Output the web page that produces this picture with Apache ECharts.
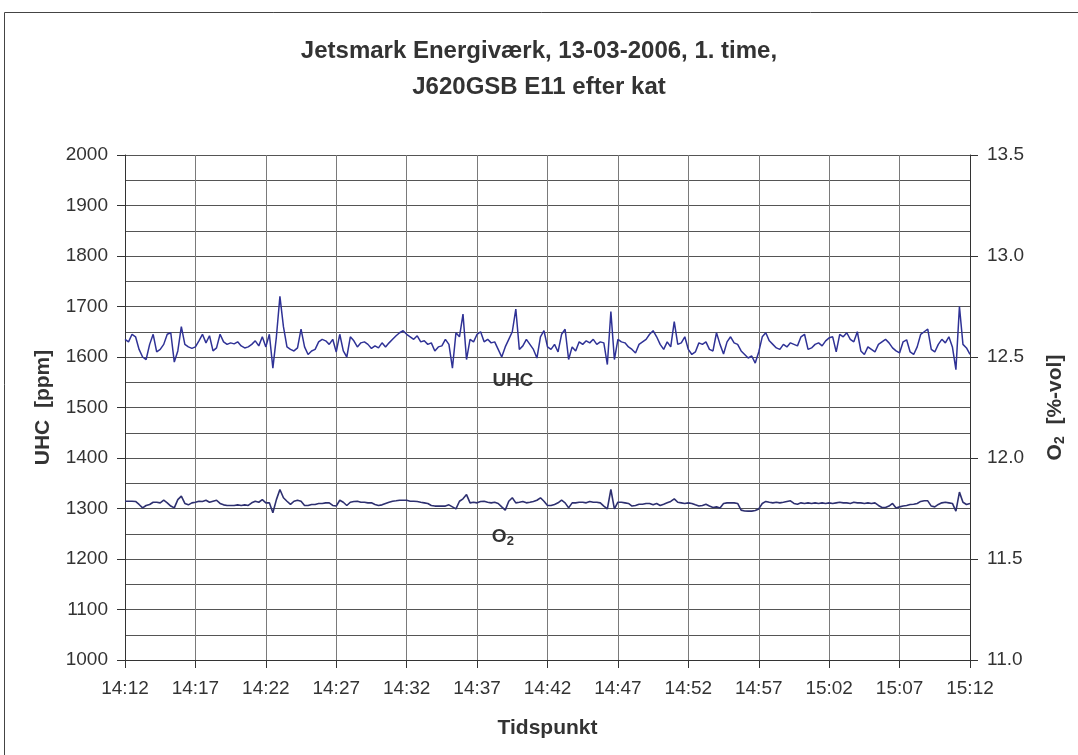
<!DOCTYPE html>
<html>
<head>
<meta charset="utf-8">
<script src="https://cdn.jsdelivr.net/npm/echarts@6/dist/echarts.min.js"></script>
<style>
html,body{margin:0;padding:0;background:#fff;}
#chart{width:1078px;height:755px;}
</style>
</head>
<body>
<div id="chart"></div>
<script>
// time step between samples, minutes (sample i is at 14:12 + i*STEP)
const STEP = 0.25;
const xTickLabels = ['14:12','14:17','14:22','14:27','14:32','14:37','14:42','14:47','14:52','14:57','15:02','15:07','15:12'];

// UHC [ppm], every 15 s from 14:12 to 15:12
const uhc = [
1635,1630,1645,1640, 1615,1600,1595,1625, 1645,1610,1615,1625, 1645,1648,1590,1612,
1660,1625,1620,1617, 1620,1632,1645,1628, 1642,1612,1618,1645, 1630,1625,1628,1626,
1630,1622,1618,1620, 1625,1632,1622,1640, 1620,1645,1578,1640, 1720,1660,1620,1615,
1612,1618,1655,1620, 1605,1612,1615,1630, 1635,1632,1625,1635, 1610,1645,1612,1600,
1640,1632,1620,1628, 1630,1625,1617,1622, 1618,1628,1620,1628, 1635,1642,1648,1652,
1645,1640,1635,1642, 1630,1632,1625,1628, 1612,1620,1622,1635, 1625,1578,1648,1640,
1685,1595,1635,1630, 1645,1650,1630,1635, 1628,1630,1615,1600, 1620,1635,1650,1695,
1615,1622,1635,1625, 1615,1598,1640,1652, 1620,1615,1625,1610, 1645,1655,1595,1620,
1612,1630,1625,1632, 1628,1635,1625,1630, 1628,1585,1690,1595, 1635,1630,1628,1620,
1615,1608,1625,1630, 1635,1645,1652,1640, 1625,1615,1630,1620, 1670,1625,1628,1640,
1615,1605,1610,1628, 1625,1630,1615,1612, 1648,1625,1606,1630, 1640,1628,1625,1612,
1605,1598,1602,1588, 1610,1640,1648,1632, 1625,1618,1615,1625, 1620,1628,1625,1622,
1640,1645,1615,1618, 1625,1628,1622,1632, 1638,1640,1610,1645, 1640,1648,1635,1630,
1650,1612,1605,1620, 1615,1610,1625,1630, 1635,1628,1618,1612, 1608,1630,1634,1610,
1605,1620,1645,1650, 1655,1615,1610,1625, 1635,1628,1640,1620, 1575,1700,1625,1618,
1605
];

// O2 [%-vol], every 15 s from 14:12 to 15:12
const o2 = [
11.786,11.786,11.786,11.785, 11.770,11.753,11.765,11.770, 11.781,11.781,11.778,11.791,
11.778,11.762,11.753,11.794, 11.811,11.775,11.768,11.778, 11.781,11.786,11.785,11.791,
11.781,11.786,11.791,11.775, 11.768,11.765,11.765,11.765, 11.768,11.765,11.768,11.765,
11.778,11.786,11.781,11.794, 11.778,11.778,11.729,11.794, 11.844,11.803,11.786,11.770,
11.786,11.791,11.786,11.765, 11.765,11.770,11.770,11.775, 11.775,11.778,11.778,11.765,
11.762,11.791,11.781,11.765, 11.781,11.785,11.786,11.781, 11.781,11.778,11.778,11.770,
11.765,11.768,11.775,11.781, 11.786,11.788,11.791,11.791, 11.791,11.786,11.786,11.785,
11.781,11.778,11.775,11.765, 11.762,11.762,11.762,11.762, 11.768,11.758,11.748,11.786,
11.798,11.819,11.778,11.781, 11.778,11.785,11.786,11.781, 11.778,11.781,11.775,11.758,
11.742,11.786,11.803,11.778, 11.781,11.785,11.778,11.781, 11.785,11.791,11.803,11.786,
11.765,11.765,11.770,11.778, 11.791,11.778,11.753,11.778, 11.778,11.781,11.781,11.778,
11.785,11.781,11.781,11.778, 11.762,11.748,11.844,11.748, 11.781,11.781,11.778,11.775,
11.762,11.765,11.771,11.771, 11.775,11.775,11.768,11.775, 11.765,11.771,11.778,11.785,
11.798,11.781,11.778,11.775, 11.778,11.775,11.768,11.762, 11.765,11.771,11.762,11.755,
11.758,11.753,11.775,11.778, 11.778,11.778,11.775,11.742, 11.738,11.737,11.737,11.740,
11.748,11.775,11.785,11.781, 11.778,11.781,11.778,11.781, 11.785,11.788,11.775,11.771,
11.778,11.775,11.778,11.775, 11.778,11.775,11.778,11.775, 11.778,11.775,11.778,11.781,
11.778,11.778,11.775,11.781, 11.778,11.778,11.775,11.778, 11.775,11.778,11.765,11.755,
11.755,11.762,11.775,11.753, 11.758,11.762,11.765,11.770, 11.771,11.775,11.785,11.788,
11.788,11.762,11.758,11.770, 11.778,11.781,11.778,11.775, 11.737,11.831,11.781,11.770,
11.775
];

const FONT = '"Liberation Sans", Arial, sans-serif';
const TXT = '#333';

const chart = echarts.init(document.getElementById('chart'), null, {renderer: 'canvas'});

const option = {
  animation: false,
  backgroundColor: '#fff',
  title: {
    text: 'Jetsmark Energiværk, 13-03-2006, 1. time,\nJ620GSB E11 efter kat',
    left: 'center',
    top: 28,
    textStyle: {fontFamily: FONT, fontSize: 24, fontWeight: 'bold', color: TXT, lineHeight: 36}
  },
  grid: {left: 125, right: 108, top: 155, bottom: 95, containLabel: false},
  xAxis: {
    type: 'value', min: 0, max: 60, interval: 5,
    name: 'Tidspunkt', nameLocation: 'middle', nameGap: 58,
    nameTextStyle: {fontFamily: FONT, fontSize: 21, fontWeight: 'bold', color: TXT},
    axisLine: {show: true, lineStyle: {color: '#333', width: 1}},
    axisTick: {show: true, length: 8, lineStyle: {color: '#333'}},
    axisLabel: {
      margin: 19, fontFamily: FONT, fontSize: 19, color: TXT,
      formatter: v => xTickLabels[Math.round(v / 5)]
    },
    splitLine: {show: true, lineStyle: {color: '#7a7a7a', width: 1}}
  },
  yAxis: [
    {
      type: 'value', min: 1000, max: 2000, interval: 100, position: 'left',
      name: 'UHC  [ppm]', nameLocation: 'middle', nameGap: 71, nameRotate: 90,
      nameTextStyle: {fontFamily: FONT, fontSize: 21, fontWeight: 'bold', color: TXT},
      axisLine: {show: true, lineStyle: {color: '#333', width: 1}},
      axisTick: {show: true, length: 8, lineStyle: {color: '#333'}},
      axisLabel: {margin: 17, fontFamily: FONT, fontSize: 19, color: TXT, formatter: v => String(v)},
      splitLine: {show: true, lineStyle: {color: '#555', width: 1}},
      minorTick: {show: false, splitNumber: 2},
      minorSplitLine: {show: true, lineStyle: {color: '#555', width: 1}}
    },
    {
      type: 'value', min: 11, max: 13.5, interval: 0.5, position: 'right',
      name: '{o|O}{s|2}{t|  [%-vol]}', nameLocation: 'middle', nameGap: 73, nameRotate: 90,
      nameTextStyle: {
        fontFamily: FONT, fontSize: 21, fontWeight: 'bold', color: TXT,
        rich: {
          o: {fontFamily: FONT, fontSize: 21, fontWeight: 'bold', color: TXT, lineHeight: 24},
          s: {fontFamily: FONT, fontSize: 14, fontWeight: 'bold', color: TXT, lineHeight: 6, verticalAlign: 'bottom'},
          t: {fontFamily: FONT, fontSize: 21, fontWeight: 'bold', color: TXT, lineHeight: 24}
        }
      },
      axisLine: {show: true, lineStyle: {color: '#333', width: 1}},
      axisTick: {show: true, length: 8, lineStyle: {color: '#333'}},
      axisLabel: {margin: 17, fontFamily: FONT, fontSize: 19, color: TXT, formatter: v => v.toFixed(1)},
      splitLine: {show: false}
    }
  ],
  series: [
    {
      name: 'UHC', type: 'line', yAxisIndex: 0, showSymbol: false, symbol: 'none',
      lineStyle: {color: '#2f3296', width: 1.5},
      data: uhc.map((v, i) => [i * STEP, v]),
      z: 3
    },
    {
      name: 'O2', type: 'line', yAxisIndex: 1, showSymbol: false, symbol: 'none',
      lineStyle: {color: '#2e3070', width: 1.6},
      data: o2.map((v, i) => [i * STEP, v]),
      z: 3
    }
  ]
};
chart.setOption(option);

// in-plot series labels positioned through the chart's own scales
const pU = chart.convertToPixel({xAxisIndex: 0, yAxisIndex: 0}, [27.55, 1552]);
const pO = chart.convertToPixel({xAxisIndex: 0, yAxisIndex: 0}, [26.05, 1244]);
chart.setOption({
  graphic: [
    {
      type: 'rect', silent: true, z: 0,
      shape: {x: 4.5, y: 12.5, width: 1200, height: 1000},
      style: {fill: 'none', stroke: '#444', lineWidth: 1}
    },
    {
      type: 'text', silent: true, z: 10, x: pU[0], y: pU[1],
      style: {text: 'UHC', fontFamily: FONT, fontSize: 19, fontWeight: 'bold', fill: TXT, align: 'center', verticalAlign: 'middle'}
    },
    {
      type: 'text', silent: true, z: 10, x: pO[0], y: pO[1],
      style: {
        text: '{o|O}{s|2}', align: 'left', verticalAlign: 'middle',
        rich: {
          o: {fontFamily: FONT, fontSize: 19, fontWeight: 'bold', fill: TXT, lineHeight: 22},
          s: {fontFamily: FONT, fontSize: 13, fontWeight: 'bold', fill: TXT, lineHeight: 6, verticalAlign: 'bottom'}
        }
      }
    }
  ]
});
</script>
</body>
</html>
